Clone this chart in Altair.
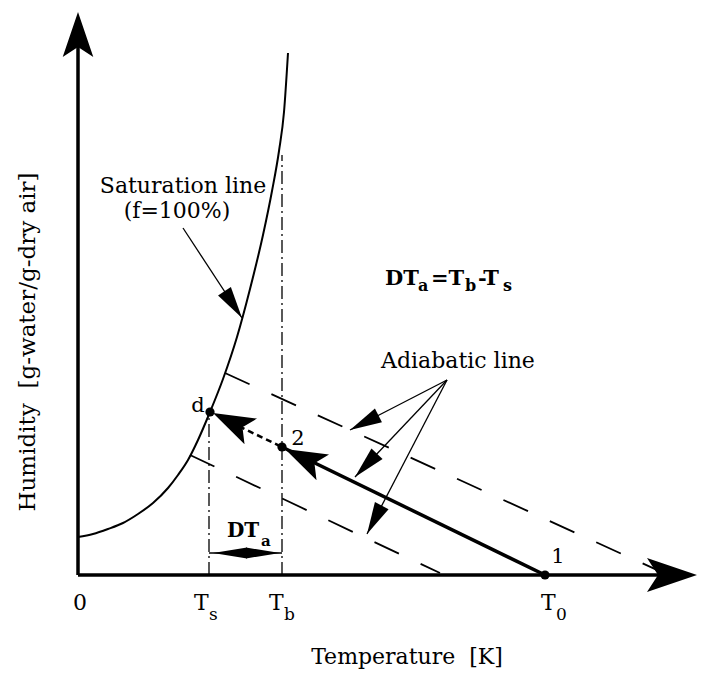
import math
import altair as alt
import pandas as pd

# ---------------- data (schematic units: T along temperature axis, H along humidity axis) -------------
T_S, T_B, T_0 = 131, 204, 467

# saturation line (f = 100 %)
sat_T = [0, 15, 30, 45, 60, 75, 90, 100, 110, 120, 132, 145, 159, 172, 185, 194, 201, 206, 210]
sat_H = [38, 41, 46, 52, 61, 72, 87, 100, 115, 135, 163, 196, 238, 286, 340, 384, 424, 463, 522]

# state points
state_labels = ["d", "2", "1"]
state_T = [132, 204, 467]
state_H = [163, 128, 0]

# dashed adiabatic lines (start on saturation line, end near T axis)
adiabat_ids = ["upper", "lower"]
adiabat_T_start = [147, 112]
adiabat_H_start = [202, 120]
adiabat_T_end = [590, 362]
adiabat_H_end = [0, 2]

# axis extents
x_axis_tip = 619
y_axis_tip = 563

# annotation arrows: tail -> tip
annot_tail_T = [105, 369, 369, 369]
annot_tail_H = [347, 195, 195, 195]
annot_tip_T = [164, 272, 277, 289]
annot_tip_H = [257, 145, 98, 41]

# DT_a bracket height
dt_H = 22

# ---------------- scales ----------------
W, Hh = 689, 662
xs = alt.Scale(domain=[-70, 619], nice=False, zero=False)
ys = alt.Scale(domain=[-95, 567], nice=False, zero=False)
X = lambda f="T": alt.X(f"{f}:Q", scale=xs, axis=None)
Y = lambda f="H": alt.Y(f"{f}:Q", scale=ys, axis=None)
FONT = "DejaVu Serif"
NB = "\u00a0"

def ang(t0, h0, t1, h1):
    return math.degrees(math.atan2(t1 - t0, h1 - h0)) % 360

BARB = "M0,0 L0.34,1 L0,0.78 L-0.34,1 Z"
NARROW = "M0,0 L0.24,1 L-0.24,1 Z"
DIAM = "M0,0 L0.16,1 L-0.16,1 Z"

# ---------------- layers ----------------
axes_df = pd.DataFrame({"T": [0, 0], "H": [0, 0], "T2": [0, x_axis_tip - 20], "H2": [y_axis_tip - 20, 0]})
axes = alt.Chart(axes_df).mark_rule(color="black", strokeWidth=3.5).encode(
    x=X(), y=Y(), x2="T2:Q", y2="H2:Q")

sat_df = pd.DataFrame({"T": sat_T, "H": sat_H})
sat = alt.Chart(sat_df).mark_line(color="black", strokeWidth=2, interpolate="monotone").encode(x=X(), y=Y())

adi_rows = []
for i, name in enumerate(adiabat_ids):
    adi_rows.append({"id": name, "T": adiabat_T_start[i], "H": adiabat_H_start[i]})
    adi_rows.append({"id": name, "T": adiabat_T_end[i], "H": adiabat_H_end[i]})
adi = alt.Chart(pd.DataFrame(adi_rows)).mark_line(
    color="black", strokeWidth=1.8, strokeDash=[27, 24]).encode(x=X(), y=Y(), detail="id:N")

vert_df = pd.DataFrame({"T": [T_S, T_B], "H": [0, 0], "H2": [state_H[0], 420]})
vert = alt.Chart(vert_df).mark_rule(color="black", strokeWidth=1.3, strokeDash=[13, 4, 2, 4]).encode(
    x=X(), y=Y(), y2="H2:Q")

solid_df = pd.DataFrame({"T": [state_T[1], state_T[2]], "H": [state_H[1], state_H[2]]})
solid = alt.Chart(solid_df).mark_line(color="black", strokeWidth=3.5).encode(x=X(), y=Y())

dotted_df = pd.DataFrame({"T": [state_T[0] + 20, state_T[1]], "H": [state_H[0] - 10, state_H[1]]})
dotted = alt.Chart(dotted_df).mark_line(color="black", strokeWidth=2.5, strokeDash=[6, 4]).encode(x=X(), y=Y())

annot_df = pd.DataFrame({"T": annot_tail_T, "H": annot_tail_H, "T2": annot_tip_T, "H2": annot_tip_H})
annot = alt.Chart(annot_df).mark_rule(color="black", strokeWidth=1.3).encode(
    x=X(), y=Y(), x2="T2:Q", y2="H2:Q")

dt_df = pd.DataFrame({"T": [T_S], "T2": [T_B], "H": [dt_H]})
dt_rule = alt.Chart(dt_df).mark_rule(color="black", strokeWidth=1.5).encode(x=X(), x2="T2:Q", y=Y())

# arrowheads
heads = []
heads.append({"T": 0, "H": y_axis_tip, "angle": 0.0, "shape": BARB, "size": 8100})
heads.append({"T": x_axis_tip, "H": 0, "angle": 90.0, "shape": BARB, "size": 10000})
heads.append({"T": state_T[1] + 3, "H": state_H[1] - 2,
              "angle": ang(state_T[2], state_H[2], state_T[1], state_H[1]), "shape": BARB, "size": 7056})
heads.append({"T": state_T[0] + 3, "H": state_H[0] - 1,
              "angle": ang(state_T[1], state_H[1], state_T[0], state_H[0]), "shape": BARB, "size": 7056})
for i in range(len(annot_tail_T)):
    heads.append({"T": annot_tip_T[i], "H": annot_tip_H[i],
                  "angle": ang(annot_tail_T[i], annot_tail_H[i], annot_tip_T[i], annot_tip_H[i]),
                  "shape": NARROW, "size": 4096})
heads.append({"T": T_S + 4, "H": dt_H, "angle": 270.0, "shape": DIAM, "size": 4624})
heads.append({"T": T_B - 2, "H": dt_H, "angle": 90.0, "shape": DIAM, "size": 4624})
heads_ch = alt.Chart(pd.DataFrame(heads)).mark_point(filled=True, color="black", opacity=1, strokeWidth=0).encode(
    x=X(), y=Y(),
    shape=alt.Shape("shape:N", scale=None),
    size=alt.Size("size:Q", scale=None),
    angle=alt.Angle("angle:Q", scale=None))

pts = alt.Chart(pd.DataFrame({"T": state_T, "H": state_H})).mark_circle(
    color="black", size=85, opacity=1).encode(x=X(), y=Y())

# ---------------- texts ----------------
txt_c = pd.DataFrame({
    "text": ["Saturation line", "(f=100%)", "Adiabatic line", "Temperature" + NB + NB + "[K]", "0", "d", "2", "1"],
    "T": [105, 99, 380, 329, 2, 120, 220, 480],
    "H": [382, 357, 207, -89, -35, 163, 130, 12],
    "fs": [22, 22, 22, 22, 22, 21, 21, 21],
})
texts_c = alt.Chart(txt_c).mark_text(font=FONT, align="center", baseline="alphabetic",
                                     color="black").encode(x=X(), y=Y(), text="text:N",
                                                           size=alt.Size("fs:Q", scale=None))

txt_l = pd.DataFrame({
    "text": ["T", "s", "T", "b", "T", "0"],
    "T": [116, 131, 191, 206, 463, 478],
    "H": [-35, -45, -35, -45, -35, -45],
    "fs": [22, 17, 22, 17, 22, 17],
})
texts_l = alt.Chart(txt_l).mark_text(font=FONT, align="left", baseline="alphabetic", color="black").encode(
    x=X(), y=Y(), text="text:N", size=alt.Size("fs:Q", scale=None))

txt_b = pd.DataFrame({
    "text": ["DT", "a", "DT", "a", "=T", "b", "-T", "s"],
    "T": [149, 183, 307, 340, 353, 387, 400, 425],
    "H": [38, 29, 290, 284, 290, 284, 290, 284],
    "fs": [20, 15, 21, 16, 21, 16, 21, 16],
})
texts_b = alt.Chart(txt_b).mark_text(font=FONT, fontWeight="bold", align="left", baseline="alphabetic",
                                     color="black").encode(
    x=X(), y=Y(), text="text:N", size=alt.Size("fs:Q", scale=None))

ytitle = alt.Chart(pd.DataFrame({"text": ["Humidity" + NB + NB + "[g-water/g-dry air]"], "T": [-50], "H": [233]})).mark_text(
    font=FONT, fontSize=23, angle=270, align="center", baseline="middle", color="black").encode(
    x=X(), y=Y(), text="text:N")

chart = alt.layer(
    sat, adi, vert, dotted, solid, annot, dt_rule, axes, heads_ch, pts, texts_c, texts_l, texts_b, ytitle
).properties(
    width=W, height=Hh, padding=0, autosize=alt.AutoSizeParams(type="none")
).configure_view(stroke=None)

chart.save("out.html", embed_options={"renderer": "svg", "actions": False})
